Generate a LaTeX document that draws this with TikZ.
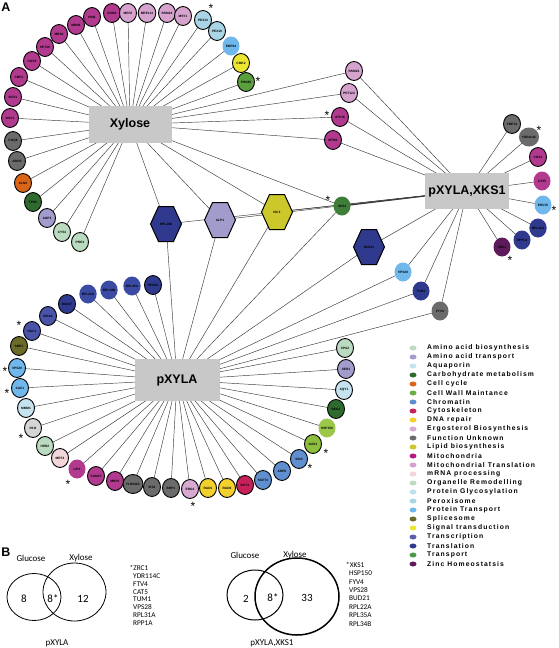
\documentclass[tikz,border=0pt]{standalone}
\usepackage{fontspec}
\setmainfont{Liberation Sans}
\newfontfamily\calib{Carlito}
\newfontfamily\legf{Liberation Sans}[LetterSpace=16]
\usetikzlibrary{shapes.geometric}
\pgfdeclarelayer{bg}
\pgfdeclarelayer{paper}
\pgfsetlayers{paper,bg,main}
\definecolor{mito}{HTML}{B23A8E}
\definecolor{mitoleg}{HTML}{B8187F}
\definecolor{mtrans}{HTML}{D6A3CF}
\definecolor{perox}{HTML}{A9D5E6}
\definecolor{ptrans}{HTML}{70B8EC}
\definecolor{signal}{HTML}{EDE630}
\definecolor{transp}{HTML}{5A9E3E}
\definecolor{funk}{HTML}{6B6B6B}
\definecolor{cellcyc}{HTML}{DA6418}
\definecolor{carb}{HTML}{2F6A2E}
\definecolor{aatrans}{HTML}{A29CCD}
\definecolor{aabio}{HTML}{BBDBC0}
\definecolor{transl}{HTML}{2F3A8F}
\definecolor{translb}{HTML}{3B4AA3}
\definecolor{transcr}{HTML}{4A53A8}
\definecolor{transcrleg}{HTML}{5A5FB0}
\definecolor{splice}{HTML}{6B6A28}
\definecolor{zinc}{HTML}{5E1B5C}
\definecolor{lipid}{HTML}{CCC82C}
\definecolor{xksg}{HTML}{3F7E3A}
\definecolor{aqua}{HTML}{C5E2EE}
\definecolor{glyco}{HTML}{BFE0EA}
\definecolor{lgrey}{HTML}{D5D5D5}
\definecolor{organ}{HTML}{BBDBC0}
\definecolor{mrna}{HTML}{F2D5D9}
\definecolor{ergo}{HTML}{D8AAD2}
\definecolor{dna}{HTML}{F2D02E}
\definecolor{cyto}{HTML}{C8205A}
\definecolor{chrom}{HTML}{5F8FCE}
\definecolor{cellwall}{HTML}{8DBE3C}
\definecolor{cellwallleg}{HTML}{6AAE45}
\definecolor{hspg}{HTML}{9BC84A}
\definecolor{transpleg}{HTML}{4A9A4A}
\definecolor{boxgrey}{HTML}{C8C8C8}
\definecolor{edgec}{HTML}{3A3A3A}
\tikzset{
  gn/.style={ellipse, draw=black, line width=0.9pt, minimum width=17pt, minimum height=19pt,
    inner sep=0pt, font=\fontsize{3.2}{3.5}\selectfont\bfseries},
  nb/.style={draw=none},
  hlbl/.style={inner sep=0pt, font=\fontsize{3.2}{3.5}\selectfont\bfseries},
  gbox/.style={fill=boxgrey, inner sep=0pt, font=\fontsize{12.5}{14}\selectfont\bfseries},
  edge/.style={draw=edgec, line width=0.45pt},
  ast/.style={inner sep=0pt, font=\fontsize{12}{12}\selectfont, yshift=-2.6pt},
  legdot/.style={ellipse, minimum width=7pt, minimum height=5pt, inner sep=0pt},
  legtxt/.style={anchor=west, inner sep=0pt, font=\legf\bfseries\fontsize{6.8}{7}\selectfont},
  vtxt/.style={inner sep=0pt, font=\calib\fontsize{9}{10}\selectfont},
  vnum/.style={inner sep=0pt, font=\calib\fontsize{11}{12}\selectfont},
  vlist/.style={anchor=west, inner sep=0pt, font=\calib\fontsize{7.3}{8}\selectfont},
  panel/.style={inner sep=0pt, font=\fontsize{12.5}{13}\selectfont\bfseries}
}
\newcommand\hexnode[5]{%
  \filldraw[fill=#4, draw=black, line width=1pt] (#2-15.5,#3) -- (#2-7.5,#3-17.5) -- (#2+7.5,#3-17.5) -- (#2+15.5,#3) -- (#2+7.5,#3+17.5) -- (#2-7.5,#3+17.5) -- cycle;
  \node[hlbl] (#1) at (#2,#3) {#5};}
\begin{document}
\begin{tikzpicture}[x=1pt,y=-1pt]
\begin{pgfonlayer}{paper}
\fill[white] (0,0) rectangle (558,648);
\end{pgfonlayer}
\useasboundingbox (0,0) rectangle (558,648);
\node[panel] (labA) at (6,7) {A};
% boxes
\node[gbox, minimum width=83pt, minimum height=37pt] (xyl) at (130,124.5) {Xylose};
\node[gbox, minimum width=84pt, minimum height=36pt] (pxk) at (467,191) {pXYLA,XKS1};
\node[gbox, minimum width=85pt, minimum height=42pt] (pxa) at (177,380) {pXYLA};
% Xylose arc
\node[gn, fill=mito] (bcs1) at (13,97) {BCS1};
\node[gn, fill=mito] (cbp1) at (19,77) {CBP1};
\node[gn, fill=mito] (cox9) at (32,61) {COX9};
\node[gn, fill=mito] (pet20) at (45,47) {PET20};
\node[gn, fill=mito] (mrs4) at (59,34) {MRS4};
\node[gn, fill=mito] (mrm1) at (76,25) {MRM1};
\node[gn, fill=mito] (pim1) at (92,17) {PIM1};
\node[gn, fill=mito] (som1) at (112,13) {SOM1};
\node[gn, fill=mtrans] (mef2) at (128,13) {MEF2};
\node[gn, fill=mtrans] (mrpl11) at (147,13) {MRPL11};
\node[gn, fill=mtrans] (rsm24) at (167,13) {RSM24};
\node[gn, fill=mtrans] (msy1) at (183,16) {MSY1};
\node[gn, fill=perox] (pex13) at (203,20) {PEX13};
\node[gn, fill=perox] (pex19) at (217,31) {PEX19};
\node[gn, nb, fill=ptrans] (emp24) at (231,46) {EMP24};
\node[gn, fill=signal] (cmk2) at (241,63) {CMK2};
\node[gn, fill=transp] (pho88) at (246,82) {PHO88};
\node[gn, fill=mito] (osc1) at (10,118) {OSC1};
\node[gn, fill=funk] (coq6) at (13,141) {COQ6};
\node[gn, fill=funk] (aim35) at (17,161) {AIM35};
\node[gn, fill=cellcyc] (cln3) at (23,183) {CLN3};
\node[gn, fill=carb] (tps2) at (33,202) {TPS2};
\node[gn, fill=aatrans] (agp3) at (47,218) {AGP3};
\node[gn, fill=aabio] (cys3) at (62,232) {CYS3};
\node[gn, fill=aabio] (pro1) at (80,242) {PRO1};
% right cluster
\node[gn, fill=mtrans] (rsm23) at (354,71) {RSM23};
\node[gn, fill=mtrans] (pet122) at (349,93) {PET122};
\node[gn, fill=mito] (atp16) at (340,117) {ATP16};
\node[gn, fill=mito] (mtm1) at (333,140) {MTM1};
\node[gn, fill=funk] (fmp14) at (512,124) {FMP14};
\node[gn, nb, fill=funk] (ydr114c) at (529,137) {YDR114C};
\node[gn, fill=mito] (cox3) at (538,157) {COX3};
\node[gn, nb, fill=mito] (cat5) at (542,181) {CAT5};
\node[gn, nb, fill=ptrans] (erv15) at (543,205) {ERV15};
\node[gn, nb, fill=transl] (rpl31a) at (538,228) {RPL31A};
\node[gn, nb, fill=transl] (rpp1a) at (522,240) {RPP1A};
\node[gn, nb, fill=zinc] (zrc1) at (502,247) {ZRC1};
\node[gn, nb, fill=xksg] (xks1) at (342,206) {XKS1};
\node[gn, nb, fill=ptrans] (vps28) at (403,272) {VPS28};
\node[gn, nb, fill=transl] (tum1) at (421,291) {TUM1};
\node[gn, nb, fill=funk] (fyv4) at (440,311) {FYV4};
% pXYLA arc
\node[gn, fill=transl] (rps8a) at (153,285) {RPS8A};
\node[gn, nb, fill=translb] (rpl35a) at (132,286) {RPL35A};
\node[gn, nb, fill=translb] (rpl34b) at (109,290) {RPL34B};
\node[gn, nb, fill=translb] (rpl22a) at (88,294) {RPL22A};
\node[gn, fill=transl] (bud27) at (67,304) {BUD27};
\node[gn, fill=transcr] (mga2) at (48,316) {MGA2};
\node[gn, fill=transcr] (hac1) at (32,331) {HAC1};
\node[gn, fill=splice] (sme1) at (19,346) {SME1};
\node[gn, fill=ptrans] (vps20) at (17,368) {VPS20};
\node[gn, fill=ptrans] (sac1) at (20,388) {SAC1};
\node[gn, fill=aqua] (mmm1) at (26,408) {MMM1};
\node[gn, fill=lgrey] (pai3) at (33,428) {PAI3};
\node[gn, fill=organ] (her2) at (45,446) {HER2};
\node[gn, fill=mrna] (mrt4) at (60,458) {MRT4};
\node[gn, nb, fill=mito] (lip2) at (77,469) {LIP2};
\node[gn, fill=mito] (sam37) at (96,476) {SAM37};
\node[gn, fill=mito] (mrp1) at (115,481) {MRP1};
\node[gn, fill=funk] (ylr042c) at (133,484) {YLR042C};
\node[gn, fill=funk] (ies2) at (152,487) {IES2};
\node[gn, fill=funk] (brp1) at (171,488) {BRP1};
\node[gn, fill=ergo] (erg3) at (190,489) {ERG3};
\node[gn, fill=dna] (rad1) at (208,488) {RAD1};
\node[gn, fill=dna] (rad6) at (227,488) {RAD6};
\node[gn, fill=cyto] (rcy1) at (245,485) {RCY1};
\node[gn, fill=chrom] (sgf73) at (263,480) {SGF73};
\node[gn, fill=chrom] (arp6) at (282,471) {ARP6};
\node[gn, fill=chrom] (sin3) at (299,459) {SIN3};
\node[gn, fill=cellwall] (gas1) at (313,444) {GAS1};
\node[gn, nb, fill=hspg] (hsp150) at (327,428) {HSP150};
\node[gn, fill=carb] (reg1) at (336,409) {REG1};
\node[gn, fill=aqua] (aqy1) at (344,390) {AQY1};
\node[gn, fill=aatrans] (ser1) at (346,369) {SER1};
\node[gn, fill=aabio] (cpa2) at (345,348) {CPA2};
% hexagons
\hexnode{rpl26b}{166}{224}{transl}{RPL26B}
\hexnode{alp1}{220}{220}{aatrans}{ALP1}
\hexnode{isc1}{277}{212}{lipid}{ISC1}
\hexnode{bud21}{369}{247}{transl}{BUD21}
% asterisks
\node[ast] (a1) at (211,6) {*};
\node[ast] (a2) at (258,79) {*};
\node[ast] (a3) at (327,113) {*};
\node[ast] (a4) at (328,198) {*};
\node[ast] (a5) at (539,128) {*};
\node[ast] (a6) at (554,208) {*};
\node[ast] (a7) at (510,258) {*};
\node[ast] (a8) at (19,323) {*};
\node[ast] (a9) at (5,369) {*};
\node[ast] (a10) at (7,391) {*};
\node[ast] (a11) at (21,436) {*};
\node[ast] (a12) at (68,482) {*};
\node[ast] (a13) at (193,504) {*};
\node[ast] (a14) at (310,466) {*};
\node[ast] (a15) at (326,451) {*};
% edges
\begin{pgfonlayer}{bg}
\foreach \n in {bcs1,cbp1,cox9,pet20,mrs4,mrm1,pim1,som1,mef2,mrpl11,rsm24,msy1,pex13,pex19,emp24,cmk2,pho88,osc1,coq6,aim35,cln3,tps2,agp3,cys3,pro1,rsm23,pet122,atp16,mtm1,xks1,rpl26b,alp1,isc1}
  \draw[edge] (xyl.center) -- (\n.center);
\foreach \n in {rsm23,pet122,atp16,mtm1,fmp14,ydr114c,cox3,cat5,erv15,rpl31a,rpp1a,zrc1,bud21,vps28,tum1,fyv4,rpl26b,alp1,isc1}
  \draw[edge] (pxk.center) -- (\n.center);
\draw[edge, line width=1.1pt] (pxk.center) -- (xks1.center);
\foreach \n in {rps8a,rpl35a,rpl34b,rpl22a,bud27,mga2,hac1,sme1,vps20,sac1,mmm1,pai3,her2,mrt4,lip2,sam37,mrp1,ylr042c,ies2,brp1,erg3,rad1,rad6,rcy1,sgf73,arp6,sin3,gas1,hsp150,reg1,aqy1,ser1,cpa2,rpl26b,alp1,isc1,xks1,bud21,vps28,tum1,fyv4}
  \draw[edge] (pxa.center) -- (\n.center);
\end{pgfonlayer}
% legend
\foreach \c/\t [count=\i from 0] in {aabio/Amino acid biosynthesis, aatrans/Amino acid transport, aqua/Aquaporin, carb/Carbohydrate metabolism, cellcyc/Cell cycle, cellwallleg/Cell Wall Maintance, chrom/Chromatin, cyto/Cytoskeleton, dna/DNA repair, ergo/Ergosterol Biosynthesis, funk/Function Unknown, lipid/Lipid biosynthesis, mitoleg/Mitochondria, mtrans/Mitochondrial Translation, mrna/mRNA processing, organ/Organelle Remodelling, glyco/Protein Glycosylation, perox/Peroxisome, ptrans/Protein Transport, splice/Splicesome, signal/Signal transduction, transcrleg/Transcription, transl/Translation, transpleg/Transport, zinc/Zinc Homeostatsis}
{
  \node[legdot, fill=\c] (ld\i) at (413,348+9*\i) {};
  \node[legtxt] (lt\i) at (427,348+9*\i) {\t};
}
% panel B
\node[panel] (labB) at (6,552) {B};
\node[ellipse, draw=black, line width=0.8pt, minimum width=54pt, minimum height=47pt, inner sep=0pt] (vg1) at (34,597) {};
\node[ellipse, draw=black, line width=0.8pt, minimum width=63pt, minimum height=58pt, inner sep=0pt] (vx1) at (74.5,592) {};
\node[vtxt] (tg1) at (31,558) {Glucose};
\node[vtxt] (tx1) at (81,558) {Xylose};
\node[vnum] (n11) at (24,599) {8};
\node[vnum] (n12) at (53,599) {8*};
\node[vnum] (n13) at (83,599) {12};
\node[vtxt] (tp1) at (57,643) {pXYLA};
\node[vlist] (l1h) at (129.5,568) {*ZRC1};
\foreach \t [count=\i] in {YDR114C,FTV4,CAT5,TUM1,VPS28,RPL31A,RPP1A}
  \node[vlist] (l1\i) at (133,568+7.9*\i) {\t};
\node[ellipse, draw=black, line width=1pt, minimum width=56pt, minimum height=50pt, inner sep=0pt] (vg2) at (255,595) {};
\node[ellipse, draw=black, line width=1.5pt, minimum width=84pt, minimum height=77pt, inner sep=0pt] (vx2) at (297,596.5) {};
\node[vtxt] (tg2) at (245,555) {Glucose};
\node[vtxt] (tx2) at (295,555) {Xylose};
\node[vnum] (n21) at (246,599) {2};
\node[vnum] (n22) at (273,598) {8*};
\node[vnum] (n23) at (307,598) {33};
\node[vtxt] (tp2) at (272,643) {pXYLA,XKS1};
\node[vlist] (l2h) at (346,565) {*XKS1};
\foreach \t [count=\i] in {HSP150,FYV4,VPS28,BUD21,RPL22A,RPL35A,RPL34B}
  \node[vlist] (l2\i) at (349,565+8.4*\i) {\t};
\end{tikzpicture}
\end{document}
